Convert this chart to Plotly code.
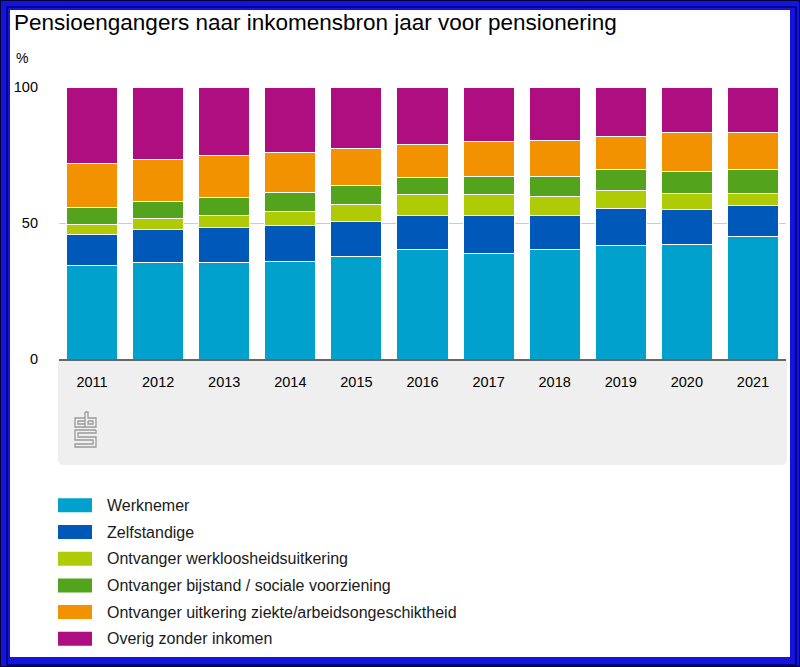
import plotly.graph_objects as go

years = ["2011", "2012", "2013", "2014", "2015", "2016", "2017", "2018", "2019", "2020", "2021"]

werknemer = [34.3, 35.3, 35.3, 35.8, 37.7, 40.2, 38.7, 40.2, 41.7, 42.1, 45.1]
zelfstandige = [11.3, 12.2, 13.2, 13.2, 12.7, 12.7, 14.2, 12.7, 13.7, 12.8, 11.3]
werkloos = [3.9, 4.0, 4.4, 5.3, 6.4, 7.4, 7.4, 6.9, 6.4, 5.9, 4.4]
bijstand = [6.2, 6.3, 6.4, 7.0, 6.9, 6.4, 6.8, 7.3, 7.8, 8.3, 8.8]
ziekte = [16.3, 15.7, 15.7, 14.7, 13.7, 12.2, 12.8, 13.3, 12.2, 14.2, 13.7]
overig = [28.0, 26.5, 25.0, 24.0, 22.6, 21.1, 20.1, 19.6, 18.2, 16.7, 16.7]

series_names = [
    "Werknemer",
    "Zelfstandige",
    "Ontvanger werkloosheidsuitkering",
    "Ontvanger bijstand / sociale voorziening",
    "Ontvanger uitkering ziekte/arbeidsongeschiktheid",
    "Overig zonder inkomen",
]
series_values = [werknemer, zelfstandige, werkloos, bijstand, ziekte, overig]
colors = ["#00a1cd", "#0058b8", "#afcb05", "#53a31d", "#f39200", "#af0e80"]

y_ticks = [0, 50, 100]

W, H = 800, 667
ML, MR, MT, MB = 59, 14, 87, 308
PW = W - ML - MR
PH = H - MT - MB


def px(x):
    return (x - ML) / PW


def py(y):
    return (H - MB - y) / PH


FONT = "Arial, 'Liberation Sans', sans-serif"

fig = go.Figure()
for name, vals, col in zip(series_names, series_values, colors):
    fig.add_trace(go.Bar(
        x=years, y=vals, name=name,
        marker=dict(color=col, line=dict(color="white", width=1)),
        showlegend=False,
    ))

shapes = []
annotations = []

# Gray panel under the x axis, rounded bottom corners
x0, x1, y0, y1, r = 58, 787, 360, 465, 6
path = (
    f"M{px(x0)},{py(y0)} L{px(x1)},{py(y0)} L{px(x1)},{py(y1 - r)} "
    f"Q{px(x1)},{py(y1)} {px(x1 - r)},{py(y1)} L{px(x0 + r)},{py(y1)} "
    f"Q{px(x0)},{py(y1)} {px(x0)},{py(y1 - r)} Z"
)
shapes.append(dict(type="path", xref="paper", yref="paper", path=path,
                   fillcolor="#efefef", line=dict(width=0), layer="below"))

# CBS logo (outline style)
logo_paths = [
    [(85, 418), (75, 418), (75, 427), (85, 427)],
    [(85, 421), (78, 421), (78, 424), (85, 424)],
    [(85, 412), (85, 427), (96, 427), (96, 418), (88, 418), (88, 412), (85, 412)],
    [(88, 421), (93, 421), (93, 424), (88, 424), (88, 421)],
    [(96, 430), (75, 430), (75, 440), (93, 440), (93, 444), (75, 444), (75, 447),
     (96, 447), (96, 437), (78, 437), (78, 433), (96, 433), (96, 430)],
]
for pts in logo_paths:
    d = "M" + " L".join(f"{px(a)},{py(b)}" for a, b in pts)
    shapes.append(dict(type="path", xref="paper", yref="paper", path=d,
                       line=dict(color="#9a9a9a", width=1.3)))

# Manual legend
row0, step = 505.3, 26.7
for i, (name, col) in enumerate(zip(series_names, colors)):
    cy = row0 + i * step
    shapes.append(dict(type="rect", xref="paper", yref="paper",
                       x0=px(58), x1=px(92), y0=py(cy - 7), y1=py(cy + 7),
                       fillcolor=col, line=dict(width=0)))
    annotations.append(dict(xref="paper", yref="paper", x=px(105), y=py(cy),
                            text=name, showarrow=False, xanchor="left", yanchor="middle",
                            font=dict(family=FONT, size=16, color="#1a1a1a")))

# Title and unit label
annotations.append(dict(xref="paper", yref="paper", x=px(12), y=py(23),
                        text="Pensioengangers naar inkomensbron jaar voor pensionering",
                        showarrow=False, xanchor="left", yanchor="middle",
                        font=dict(family=FONT, size=22.5, color="#000000")))
annotations.append(dict(xref="paper", yref="paper", x=px(14), y=py(58),
                        text="%", showarrow=False, xanchor="left", yanchor="middle",
                        font=dict(family=FONT, size=14, color="#000000")))

# Frame border
shapes.append(dict(type="rect", xref="paper", yref="paper",
                   x0=px(5), x1=px(795), y0=py(5), y1=py(662),
                   line=dict(color="#1414dc", width=10), fillcolor="rgba(0,0,0,0)"))
shapes.append(dict(type="rect", xref="paper", yref="paper",
                   x0=px(7), x1=px(796), y0=py(7), y1=py(665),
                   line=dict(color="#00006a", width=1.5), fillcolor="rgba(0,0,0,0)"))
shapes.append(dict(type="rect", xref="paper", yref="paper",
                   x0=px(0.5), x1=px(799.5), y0=py(0.5), y1=py(666.5),
                   line=dict(color="#000033", width=1), fillcolor="rgba(0,0,0,0)"))

fig.update_layout(
    width=W, height=H,
    margin=dict(l=ML, r=MR, t=MT, b=MB, pad=0),
    barmode="stack",
    bargap=0.228,
    paper_bgcolor="white",
    plot_bgcolor="white",
    font=dict(family=FONT, size=14, color="#000000"),
    shapes=shapes,
    annotations=annotations,
    xaxis=dict(
        showgrid=False, showline=True, linecolor="#666666", linewidth=2,
        ticks="", ticklabelstandoff=9, tickfont=dict(family=FONT, size=14.5, color="#000"),
        fixedrange=True,
    ),
    yaxis=dict(
        range=[0, 100], tickvals=y_ticks, showgrid=True, gridcolor="#cccccc", gridwidth=1,
        zeroline=False, showline=False, ticks="", ticklabelstandoff=20,
        tickfont=dict(family=FONT, size=14.5, color="#000"), fixedrange=True,
    ),
)

fig.write_html("out.html", config={"displayModeBar": False},
               post_script="document.body.style.margin='0px';")
